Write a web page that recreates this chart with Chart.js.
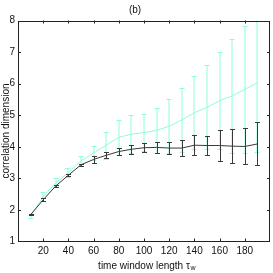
<!DOCTYPE html>
<html>
<head>
<meta charset="utf-8">
<script src="https://cdn.jsdelivr.net/npm/chart.js@4"></script>
<style>
html,body{margin:0;padding:0;background:#fff}
#wrap{width:273px;height:273px}
</style>
</head>
<body>
<div id="wrap"><canvas id="c" width="273" height="273"></canvas></div>
<script>
// данные
const windowLen = [10,20,30,40,50,60,70,80,90,100,110,120,130,140,150,160,170,180,190]

const darkMean = [1.85,2.32,2.76,3.1,3.43,3.6,3.73,3.85,3.92,3.97,3.98,3.96,3.96,4.05,4.04,4.04,4.02,4.01,4.09]
const darkErr  = [0.02,0.05,0.04,0.03,0.03,0.1,0.1,0.12,0.15,0.15,0.17,0.18,0.24,0.31,0.3,0.48,0.53,0.57,0.68]

const cyanMean = [1.8,2.42,2.86,3.18,3.55,3.8,4.05,4.3,4.4,4.45,4.52,4.65,4.85,5.08,5.25,5.46,5.61,5.82,6.03]
const cyanErr  = [0.05,0.14,0.14,0.14,0.16,0.22,0.43,0.55,0.6,0.58,0.72,0.85,1.0,1.15,1.33,1.53,1.8,2.02,2.2]

const xTicksHidden = [0,200]

const darkColor = "#3a3a3a"
const cyanColor = "#8ffcdc"

const errs = [darkErr, cyanErr]
const barShift = [0.5, 0]

function pts(ys){
return windowLen.map((x,i)=>({x:x,y:ys[i]}))
}

// усы погрешностей, рисуем перед линией набора
const errorBars = {
id:"errorBars",
beforeDatasetDraw(chart,args){
const ds = chart.data.datasets[args.index]
const e = errs[args.index]
const xs = chart.scales.x, ys = chart.scales.y
const a = chart.chartArea
const ctx = chart.ctx
ctx.save()
ctx.beginPath()
ctx.rect(a.left,a.top,a.right-a.left,a.bottom-a.top)
ctx.clip()
ctx.strokeStyle = ds.borderColor
ctx.lineWidth = 1
ds.data.forEach((p,i)=>{
const px = Math.round(xs.getPixelForValue(p.x))+barShift[args.index]
const y1 = Math.round(ys.getPixelForValue(p.y+e[i]))+0.5
const y2 = Math.round(ys.getPixelForValue(p.y-e[i]))+0.5
ctx.beginPath()
ctx.moveTo(px,y1); ctx.lineTo(px,y2)
ctx.moveTo(px-2.5,y1); ctx.lineTo(px+2.5,y1)
ctx.moveTo(px-2.5,y2); ctx.lineTo(px+2.5,y2)
ctx.stroke()
})
ctx.restore()
}
}

// рамка и внутренние засечки как в matlab
const boxTicks = {
id:"boxTicks",
afterDraw(chart){
const ctx = chart.ctx
const a = chart.chartArea
const xs = chart.scales.x, ys = chart.scales.y
ctx.save()
ctx.strokeStyle = "#222"
ctx.lineWidth = 1
ctx.strokeRect(Math.round(a.left)+0.5,Math.round(a.top)+0.5,Math.round(a.right-a.left)-1,Math.round(a.bottom-a.top)-1)
ctx.beginPath()
xs.ticks.forEach(t=>{
if(xTicksHidden.includes(t.value)) return
const px = Math.round(xs.getPixelForValue(t.value))+0.5
ctx.moveTo(px,a.bottom); ctx.lineTo(px,a.bottom-3)
ctx.moveTo(px,a.top); ctx.lineTo(px,a.top+3)
})
ys.ticks.forEach(t=>{
if(t.value==ys.min || t.value==ys.max) return
const py = Math.round(ys.getPixelForValue(t.value))+0.5
ctx.moveTo(a.left,py); ctx.lineTo(a.left+3,py)
ctx.moveTo(a.right,py); ctx.lineTo(a.right-3,py)
})
ctx.stroke()
// подстрочное w у tau
const t = xs.options.title
ctx.font = "10px 'Liberation Sans', Arial, sans-serif"
const w = ctx.measureText(t.text).width
ctx.fillStyle = "#111"
ctx.font = "7px 'Liberation Sans', Arial, sans-serif"
ctx.textBaseline = "middle"
ctx.fillText("w",(xs.left+xs.right)/2 + w/2 + 0.5, 268)
ctx.restore()
}
}

Chart.defaults.font.family = "'Liberation Sans', Arial, sans-serif"
Chart.defaults.font.size = 10
Chart.defaults.color = "#111"

new Chart(document.getElementById("c"),{
type:"line",
data:{
datasets:[
{label:"dark",data:pts(darkMean),borderColor:darkColor,borderWidth:1,pointRadius:0,tension:0},
{label:"cyan",data:pts(cyanMean),borderColor:cyanColor,borderWidth:1,pointRadius:0,tension:0}
]
},
options:{
responsive:false,
animation:false,
layout:{padding:{left:0,right:3,top:0,bottom:0}},
plugins:{
legend:{display:false},
tooltip:{enabled:false},
title:{display:true,text:"(b)",font:{size:10,weight:"normal"},padding:{top:4,bottom:4.5},color:"#111"}
},
scales:{
x:{
type:"linear",
min:0,max:200,
grid:{display:false,drawTicks:false},
border:{display:false},
ticks:{stepSize:20,padding:4,maxRotation:0,
callback:v=> xTicksHidden.includes(v) ? null : v},
title:{display:true,text:"time window length τ",padding:{top:0,bottom:1},font:{size:10}},
afterFit:s=>{s.height = 31.5}
},
y:{
min:1,max:8,
grid:{display:false,drawTicks:false},
border:{display:false},
ticks:{stepSize:1,padding:3},
title:{display:true,text:"correlation dimension",padding:{top:0,bottom:0},font:{size:10}},
afterFit:s=>{s.width = 18}
}
}
},
plugins:[errorBars,boxTicks]
})
</script>
</body>
</html>
